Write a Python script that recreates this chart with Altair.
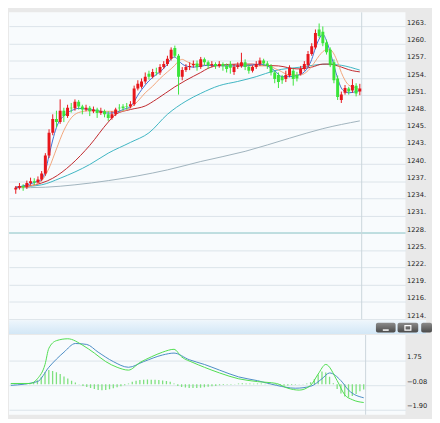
import altair as alt
import pandas as pd

# ---------------- price candles (one per bar index) ----------------
opens = [1236.0, 1236.3, 1236.6, 1236.4, 1237.1, 1237.4, 1237.2, 1237.7, 1238.7, 1241.7,
         1245.5, 1247.8, 1247.3, 1249.2, 1248.3, 1249.7, 1249.6, 1250.7, 1249.9, 1249.4,
         1249.7, 1249.1, 1249.4, 1248.8, 1249.1, 1248.6, 1248.0, 1248.6, 1249.7, 1249.9,
         1250.0, 1249.9, 1250.3, 1252.9, 1253.2, 1254.1, 1255.4, 1254.9, 1255.7, 1255.6,
         1256.5, 1257.0, 1257.9, 1259.7, 1258.4, 1254.9, 1256.0, 1256.5, 1256.8, 1257.1,
         1256.5, 1257.8, 1257.3, 1256.8, 1257.0, 1256.7, 1257.0, 1256.7, 1257.0, 1255.7,
         1256.5, 1256.7, 1257.3, 1256.5, 1255.9, 1256.5, 1257.0, 1257.6, 1257.1, 1256.7,
         1255.6, 1255.2, 1254.9, 1254.5, 1255.1, 1255.9, 1255.2, 1255.4, 1256.2, 1256.8,
         1258.7, 1259.8, 1262.8, 1262.4, 1260.6, 1259.4, 1257.3, 1254.6, 1251.0, 1252.2,
         1252.9, 1252.6, 1253.4, 1252.4]
highs = [1236.6, 1237.1, 1236.9, 1237.5, 1238.0, 1237.9, 1238.2, 1239.1, 1242.1, 1246.1,
         1248.6, 1249.2, 1251.1, 1249.7, 1250.2, 1250.5, 1251.1, 1251.0, 1250.2, 1250.2,
         1250.0, 1249.9, 1249.7, 1249.7, 1249.4, 1249.1, 1249.1, 1249.7, 1250.3, 1250.3,
         1250.5, 1250.8, 1253.4, 1254.3, 1254.6, 1255.6, 1255.9, 1256.2, 1256.4, 1257.0,
         1257.5, 1258.4, 1259.8, 1260.1, 1258.7, 1256.5, 1257.0, 1257.3, 1257.6, 1257.6,
         1258.2, 1258.1, 1257.6, 1257.5, 1257.3, 1257.5, 1257.3, 1257.1, 1257.5, 1257.0,
         1257.3, 1258.9, 1257.8, 1257.0, 1256.8, 1257.5, 1258.1, 1257.9, 1257.5, 1257.0,
         1255.9, 1255.6, 1255.2, 1255.9, 1256.8, 1256.2, 1255.7, 1256.7, 1257.5, 1259.2,
         1260.5, 1262.8, 1263.8, 1263.3, 1261.1, 1259.8, 1257.8, 1255.1, 1252.4, 1253.5,
         1253.2, 1254.5, 1253.8, 1253.7]
lows = [1235.3, 1236.0, 1235.8, 1236.1, 1236.8, 1236.8, 1237.1, 1237.4, 1238.3, 1241.3,
        1245.1, 1246.4, 1247.0, 1247.3, 1248.0, 1248.9, 1249.2, 1249.4, 1248.6, 1249.1,
        1248.3, 1248.8, 1248.0, 1248.5, 1248.1, 1247.5, 1247.7, 1248.3, 1249.1, 1249.2,
        1249.4, 1249.6, 1250.0, 1252.6, 1252.9, 1253.7, 1254.4, 1254.6, 1255.1, 1255.2,
        1256.2, 1256.7, 1257.6, 1258.1, 1251.9, 1254.3, 1255.7, 1256.0, 1256.4, 1255.9,
        1256.2, 1256.8, 1256.2, 1256.5, 1256.2, 1256.4, 1255.9, 1255.6, 1255.4, 1255.2,
        1256.2, 1256.4, 1256.0, 1255.4, 1255.6, 1256.2, 1256.7, 1256.7, 1256.2, 1255.1,
        1253.8, 1253.0, 1253.7, 1254.0, 1254.8, 1253.4, 1254.1, 1255.1, 1255.9, 1256.5,
        1258.4, 1259.5, 1261.4, 1260.0, 1258.6, 1256.5, 1253.8, 1251.0, 1250.5, 1251.9,
        1251.9, 1252.2, 1251.6, 1251.8]
closes = [1236.3, 1236.6, 1236.4, 1237.1, 1237.4, 1237.2, 1237.7, 1238.7, 1241.7, 1245.5,
          1247.8, 1247.3, 1249.2, 1248.3, 1249.7, 1249.6, 1250.7, 1249.9, 1249.4, 1249.7,
          1249.1, 1249.4, 1248.8, 1249.1, 1248.6, 1248.0, 1248.6, 1249.4, 1249.6, 1249.6,
          1249.9, 1250.3, 1252.9, 1253.7, 1254.1, 1254.9, 1254.9, 1255.7, 1255.6, 1256.5,
          1257.0, 1257.9, 1259.4, 1258.4, 1254.9, 1256.0, 1256.5, 1256.7, 1257.0, 1256.5,
          1257.8, 1257.3, 1256.8, 1257.0, 1256.7, 1257.0, 1256.7, 1256.2, 1256.4, 1256.5,
          1256.8, 1257.3, 1256.5, 1255.9, 1256.5, 1257.0, 1257.6, 1257.1, 1256.7, 1255.6,
          1254.5, 1254.0, 1254.3, 1255.2, 1256.4, 1254.5, 1254.6, 1256.2, 1257.0, 1258.7,
          1260.0, 1262.2, 1261.7, 1260.5, 1259.0, 1256.8, 1254.3, 1251.5, 1251.9, 1253.0,
          1252.4, 1253.5, 1252.1, 1252.9]

# ---------------- moving averages (read at bar indices) ----------------
ma5_idx = [0, 3, 6, 7, 8, 9, 10, 11, 12, 13, 14, 15, 17, 20, 23, 25, 27, 29, 31, 32,
           33, 34, 35, 37, 39, 41, 42, 43, 44, 45, 46, 48, 52, 57, 62, 66, 68, 70, 72, 74,
           76, 78, 79, 80, 81, 82, 83, 84, 85, 86, 87, 88, 89, 90, 92, 93]
ma5_val = [1236.3, 1236.8, 1237.4, 1237.7, 1239.1, 1241.7, 1244.3, 1246.4, 1247.7, 1248.3,
           1248.9, 1249.2, 1249.6, 1249.4, 1249.1, 1248.8, 1248.9, 1249.4, 1249.9, 1250.7,
           1251.8, 1252.7, 1253.5, 1254.8, 1255.7, 1257.0, 1257.9, 1258.2, 1257.6, 1257.0,
           1256.7, 1256.5, 1256.8, 1256.7, 1256.7, 1257.0, 1256.7, 1255.9, 1254.9, 1254.9,
           1255.1, 1255.7, 1256.5, 1257.8, 1259.7, 1261.2, 1262.0, 1260.9, 1259.0, 1256.8,
           1254.6, 1253.0, 1252.4, 1252.2, 1252.4, 1252.6]
ma10_idx = [0, 4, 7, 9, 11, 13, 15, 17, 20, 24, 28, 31, 33, 35, 37, 39, 41, 43, 44, 45,
            46, 48, 52, 58, 64, 68, 71, 74, 77, 79, 81, 82, 84, 85, 86, 87, 88, 89, 90, 92, 93]
ma10_val = [1236.3, 1236.6, 1237.5, 1239.6, 1242.8, 1245.9, 1248.0, 1248.9, 1249.2, 1249.1,
            1249.1, 1249.7, 1250.8, 1252.2, 1253.3, 1254.6, 1255.7, 1256.8, 1257.5, 1257.8,
            1257.5, 1257.0, 1256.8, 1256.7, 1256.7, 1256.7, 1256.0, 1255.2, 1255.2, 1255.9,
            1257.5, 1258.4, 1259.4, 1259.4, 1258.7, 1257.3, 1255.6, 1254.3, 1253.5, 1253.0, 1252.7]
ma20_idx = [0, 7, 10, 15, 20, 25, 27, 31, 35, 38, 43, 46, 50, 52, 55, 60, 64, 67, 71, 76,
            80, 83, 85, 87, 91, 93]
ma20_val = [1236.4, 1237.1, 1237.9, 1240.2, 1243.4, 1247.3, 1248.6, 1249.4, 1250.0, 1251.1,
            1253.2, 1254.3, 1255.6, 1256.3, 1256.8, 1257.0, 1257.0, 1256.8, 1256.7, 1256.2,
            1256.5, 1257.0, 1257.0, 1256.7, 1255.9, 1255.7]
ma60_idx = [0, 7, 12, 20, 25, 31, 36, 41, 46, 50, 55, 60, 65, 70, 77, 84, 88, 93]
ma60_val = [1236.4, 1236.8, 1237.9, 1240.2, 1242.1, 1243.9, 1245.5, 1248.6, 1250.8, 1252.1,
            1253.4, 1254.1, 1254.9, 1255.9, 1256.5, 1257.0, 1256.8, 1256.0]
malong_idx = [0, 8, 16, 25, 33, 41, 50, 62, 74, 83, 93]
malong_val = [1236.3, 1236.4, 1236.8, 1237.5, 1238.3, 1239.3, 1240.7, 1242.4, 1244.6, 1246.2, 1247.5]

# ---------------- MACD ----------------
dif_idx = [0, 5, 7, 9, 10, 12, 15, 19, 22, 25, 28, 31, 34, 37, 40, 43, 45, 48, 51, 55,
           60, 65, 70, 73, 76, 79, 81, 83, 86, 88, 90, 93]
dif_val = [0.06, 0.06, 0.41, 1.47, 2.66, 3.23, 3.37, 2.88, 2.31, 1.68, 1.26, 1.05, 1.61, 2.03,
           2.38, 2.59, 2.03, 1.61, 1.26, 0.84, 0.41, 0.20, 0.06, -0.29, -0.43, -0.08, 0.76,
           1.47, 0.27, -0.78, -1.14, -1.35]
dea_idx = [0, 7, 10, 14, 17, 20, 23, 27, 31, 35, 40, 43, 47, 51, 55, 60, 65, 70, 75, 79,
           82, 84, 87, 89, 93]
dea_val = [-0.08, 0.20, 1.26, 2.38, 3.02, 2.95, 2.38, 1.68, 1.26, 1.68, 2.17, 2.31, 1.82,
           1.47, 1.05, 0.55, 0.27, -0.08, -0.29, -0.15, 0.41, 0.84, 0.27, -0.43, -1.00]
hist = [0.04, 0.05, 0.04, 0.06, 0.05, 0.07, 0.15, 0.3, 0.55, 0.9,
        1.05, 0.98, 0.9, 0.76, 0.58, 0.42, 0.27, 0.13, 0.02, -0.12,
        -0.2, -0.28, -0.35, -0.42, -0.45, -0.43, -0.36, -0.3, -0.22, -0.15,
        -0.08, 0.05, 0.18, 0.26, 0.31, 0.34, 0.35, 0.34, 0.33, 0.31,
        0.28, 0.25, 0.18, 0.05, -0.12, -0.2, -0.24, -0.27, -0.28, -0.27,
        -0.25, -0.22, -0.18, -0.15, -0.12, -0.08, -0.05, -0.04, -0.03, 0.03,
        0.05, 0.07, 0.06, 0.05, 0.04, 0.05, 0.06, 0.04, 0.02, -0.03,
        -0.06, -0.09, -0.1, -0.09, -0.06, -0.04, -0.02, 0.03, 0.06, 0.15,
        0.4, 0.72, 0.95, 0.88, 0.55, 0.08, -0.35, -0.68, -0.9, -0.98,
        -0.86, -0.72, -0.52, -0.38]

# ---------------- axis ticks / labels ----------------
price_ticks = [1263.3, 1260.42, 1257.54, 1254.66, 1251.78, 1248.9, 1246.02, 1243.14, 1240.26,
               1237.38, 1234.5, 1231.62, 1228.74, 1225.86, 1222.98, 1220.1, 1217.22, 1214.34]
price_labels = ["1263.", "1260.", "1257.", "1254.", "1251.", "1248.", "1245.", "1243.", "1240.",
                "1237.", "1234.", "1231.", "1228.", "1225.", "1222.", "1219.", "1216.", "1214."]
level_line = [1228.74]
macd_ticks = [1.75, -0.08, -1.90]
current_bar = [93.5]

# ---------------- frames ----------------
n = len(closes)
candles = pd.DataFrame({"i": list(range(n)), "open": opens, "high": highs,
                        "low": lows, "close": closes})
candles["dir"] = ["up" if c >= o else "down" for o, c in zip(opens, closes)]


def frame(ix, vals):
    return pd.DataFrame({"i": ix, "v": vals})


W = 403
H_PRICE = 312
H_BAR = 14
H_MACD = 81
AX = 21

FONT = "DejaVu Sans"
GRID = "#dbe3ea"

xscale = alt.Scale(domain=[-0.5, 104], nice=False, zero=False)
pscale = alt.Scale(domain=[1214.3, 1265.67], nice=False, zero=False)
mscale = alt.Scale(domain=[-2.25, 3.65], nice=False, zero=False)

lab_arr = "[" + ",".join("'%s'" % s for s in price_labels) + "]"
price_axis = alt.Axis(orient="right", values=price_ticks,
                      labelExpr=lab_arr + "[round((1263.3 - datum.value) / 2.88)]",
                      grid=True, gridColor=GRID, gridWidth=1, ticks=False, domain=False,
                      labelFont=FONT, labelFontSize=6.8, labelColor="#222222",
                      labelAlign="left", labelBaseline="alphabetic", labelOffset=-2,
                      labelPadding=1, minExtent=AX, maxExtent=AX, title=None)
macd_axis = alt.Axis(orient="right", values=macd_ticks, format=".2f",
                     grid=True, gridColor=GRID, gridWidth=1, ticks=False, domain=False,
                     labelFont=FONT, labelFontSize=6.8, labelColor="#222222",
                     labelAlign="left", labelBaseline="alphabetic", labelOffset=-2,
                     labelPadding=1, minExtent=AX, maxExtent=AX, title=None)

X = alt.X("i:Q", scale=xscale, axis=None)
color_dir = alt.Color("dir:N", scale=alt.Scale(domain=["up", "down"],
                                               range=["#e8161c", "#3ae43a"]), legend=None)


def PY(field):
    return alt.Y(field, scale=pscale, axis=price_axis)


def MY(field):
    return alt.Y(field, scale=mscale, axis=macd_axis)


level = alt.Chart(pd.DataFrame({"v": level_line})).mark_rule(
    color="#93cccc", strokeWidth=1).encode(y=PY("v:Q"))

vline_p = alt.Chart(pd.DataFrame({"i": current_bar})).mark_rule(
    color="#cbd5dc", strokeWidth=1).encode(x=X)


def ma_line(ix, vals, col):
    return alt.Chart(frame(ix, vals)).mark_line(
        color=col, strokeWidth=1, interpolate="monotone", clip=True).encode(
        x=X, y=PY("v:Q"))


lines = [
    ma_line(malong_idx, malong_val, "#9fb3bd"),
    ma_line(ma60_idx, ma60_val, "#3db5c2"),
    ma_line(ma20_idx, ma20_val, "#c0282c"),
    ma_line(ma10_idx, ma10_val, "#f2a57a"),
    ma_line(ma5_idx, ma5_val, "#3f6fd2"),
]

wicks = alt.Chart(candles).mark_rule(strokeWidth=1, clip=True).encode(
    x=X, y=PY("low:Q"), y2="high:Q", color=color_dir)
bodies = alt.Chart(candles).mark_bar(size=3, clip=True).encode(
    x=X, y=PY("open:Q"), y2="close:Q", color=color_dir)

price = alt.layer(level, vline_p, *lines, wicks, bodies).properties(
    width=W, height=H_PRICE)

# ---------------- header bar between panels ----------------
one = pd.DataFrame({"a": [0]})
bar_grad = alt.Gradient(gradient="linear", x1=0, x2=0, y1=0, y2=1,
                        stops=[alt.GradientStop(color="#eef6fc", offset=0),
                               alt.GradientStop(color="#d3e7f6", offset=1)])
btn_grad = alt.Gradient(gradient="linear", x1=0, x2=0, y1=0, y2=1,
                        stops=[alt.GradientStop(color="#8c8c8c", offset=0),
                               alt.GradientStop(color="#4a4a4a", offset=1)])
hdr_bg = alt.Chart(one).mark_rect(color=bar_grad).encode(
    x=alt.value(0), x2=alt.value(W + AX), y=alt.value(0), y2=alt.value(H_BAR))
btn1 = alt.Chart(one).mark_rect(color=btn_grad, cornerRadius=2).encode(
    x=alt.value(373), x2=alt.value(393), y=alt.value(2.5), y2=alt.value(12.5))
btn2 = alt.Chart(one).mark_rect(color=btn_grad, cornerRadius=2).encode(
    x=alt.value(395), x2=alt.value(416), y=alt.value(2.5), y2=alt.value(12.5))
btn3 = alt.Chart(one).mark_rect(color=btn_grad, cornerRadius=2).encode(
    x=alt.value(419), x2=alt.value(430), y=alt.value(2.5), y2=alt.value(12.5))
sym1 = alt.Chart(one).mark_rule(color="white", strokeWidth=1.5).encode(
    x=alt.value(380), x2=alt.value(386), y=alt.value(10))
sym2 = alt.Chart(one).mark_rect(fill="white", fillOpacity=0, stroke="white",
                                strokeWidth=1.2).encode(
    x=alt.value(402.5), x2=alt.value(408.5), y=alt.value(5.5), y2=alt.value(10))
header = alt.layer(hdr_bg, btn1, btn2, btn3, sym1, sym2).properties(
    width=W + AX, height=H_BAR)

# ---------------- MACD panel ----------------
hist_df = pd.DataFrame({"i": list(range(n)), "h": hist})
macd_grid = alt.Chart(pd.DataFrame({"v": macd_ticks})).mark_rule(opacity=0).encode(
    y=MY("v:Q"))
hist_bars = alt.Chart(hist_df).mark_rule(color="#7ee07e", strokeWidth=1.3, clip=True).encode(
    x=X, y=MY("h:Q"), y2=alt.datum(0))
vline_m = alt.Chart(pd.DataFrame({"i": current_bar})).mark_rule(
    color="#cbd5dc", strokeWidth=1).encode(x=X)
dea_line = alt.Chart(frame(dea_idx, dea_val)).mark_line(
    color="#4a8cc4", strokeWidth=1, interpolate="monotone", clip=True).encode(
    x=X, y=MY("v:Q"))
dif_line = alt.Chart(frame(dif_idx, dif_val)).mark_line(
    color="#4fdc4f", strokeWidth=1, interpolate="monotone", clip=True).encode(
    x=X, y=MY("v:Q"))
macd = alt.layer(macd_grid, vline_m, hist_bars, dea_line, dif_line).properties(
    width=W, height=H_MACD)

chart = alt.vconcat(price, header, macd, spacing=0).properties(
    background="#e9e9e9", padding=0
).configure_view(strokeWidth=0, fill="#f8fbfd")

chart.save("out.html", embed_options={"renderer": "svg", "actions": False})
